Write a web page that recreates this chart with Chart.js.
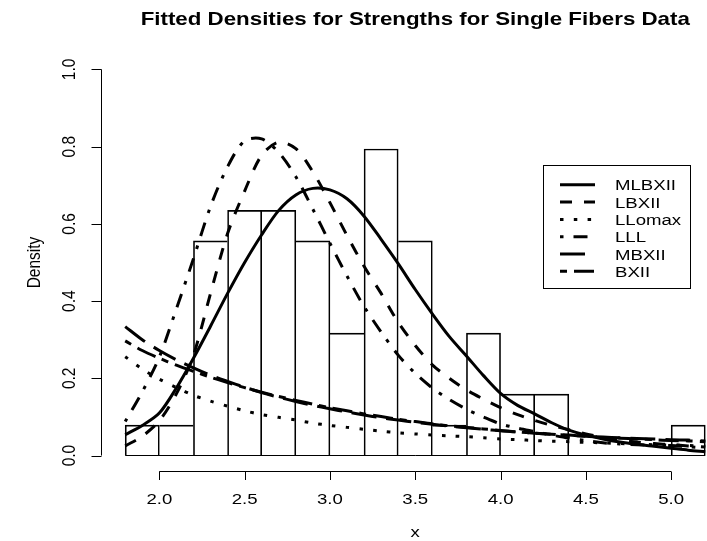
<!DOCTYPE html>
<html>
<head>
<meta charset="utf-8">
<script src="https://cdn.jsdelivr.net/npm/chart.js@4.4.1/dist/chart.umd.min.js"></script>
<style>
  html, body { margin: 0; padding: 0; background: #fff; overflow: hidden; }
</style>
</head>
<body>
<canvas id="myChart" width="707" height="541"></canvas>
<script>
// histogram of the fibre strengths
const histBreaks = [1.8, 2.0, 2.2, 2.4, 2.6, 2.8, 3.0, 3.2, 3.4, 3.6, 3.8, 4.0, 4.2, 4.4, 4.6, 4.8, 5.0, 5.2];
const histDensity = [0.079, 0.079, 0.556, 0.635, 0.635, 0.556, 0.317, 0.794, 0.556, 0.079, 0.317, 0.159, 0.159, 0, 0, 0, 0.079];

// fitted densities
const curveX = [1.8, 1.9, 2.0, 2.1, 2.2, 2.3, 2.4, 2.5, 2.6, 2.7, 2.8, 2.9, 3.0, 3.1, 3.2, 3.3, 3.4, 3.5, 3.6, 3.7, 3.8, 3.9, 4.0, 4.1, 4.2, 4.3, 4.4, 4.5, 4.6, 4.7, 4.8, 4.9, 5.0, 5.1, 5.2];
const mlbxii = [0.054, 0.078, 0.11, 0.175, 0.252, 0.335, 0.42, 0.50, 0.572, 0.635, 0.675, 0.692, 0.688, 0.665, 0.62, 0.56, 0.497, 0.43, 0.367, 0.308, 0.258, 0.207, 0.161, 0.13, 0.108, 0.085, 0.066, 0.053, 0.043, 0.035, 0.029, 0.024, 0.019, 0.014, 0.010];
const lbxii = [0.025, 0.05, 0.09, 0.16, 0.26, 0.42, 0.575, 0.685, 0.778, 0.812, 0.795, 0.735, 0.655, 0.57, 0.49, 0.42, 0.345, 0.285, 0.235, 0.20, 0.17, 0.146, 0.124, 0.106, 0.091, 0.078, 0.067, 0.056, 0.047, 0.040, 0.035, 0.031, 0.028, 0.025, 0.022];
const llomax = [0.256, 0.224, 0.198, 0.176, 0.156, 0.141, 0.128, 0.116, 0.106, 0.099, 0.092, 0.084, 0.078, 0.073, 0.068, 0.063, 0.059, 0.056, 0.053, 0.051, 0.049, 0.046, 0.043, 0.041, 0.039, 0.037, 0.036, 0.034, 0.033, 0.031, 0.030, 0.028, 0.027, 0.026, 0.025];
const lll = [0.088, 0.165, 0.255, 0.38, 0.51, 0.645, 0.748, 0.815, 0.82, 0.785, 0.722, 0.638, 0.55, 0.465, 0.386, 0.32, 0.26, 0.213, 0.175, 0.145, 0.12, 0.10, 0.082, 0.071, 0.062, 0.053, 0.045, 0.039, 0.033, 0.030, 0.028, 0.027, 0.026, 0.023, 0.02];
const mbxii = [0.334, 0.30, 0.272, 0.248, 0.227, 0.208, 0.192, 0.177, 0.163, 0.151, 0.14, 0.13, 0.121, 0.113, 0.105, 0.098, 0.092, 0.086, 0.081, 0.076, 0.072, 0.068, 0.064, 0.061, 0.058, 0.055, 0.053, 0.05, 0.048, 0.046, 0.044, 0.043, 0.041, 0.04, 0.038];
const bxii = [0.297, 0.272, 0.252, 0.234, 0.218, 0.203, 0.189, 0.176, 0.164, 0.153, 0.143, 0.133, 0.124, 0.116, 0.108, 0.101, 0.094, 0.088, 0.082, 0.077, 0.073, 0.069, 0.065, 0.061, 0.058, 0.055, 0.052, 0.050, 0.047, 0.045, 0.043, 0.041, 0.039, 0.038, 0.036];

const xTicks = [2.0, 2.5, 3.0, 3.5, 4.0, 4.5, 5.0];
const yTicks = [0.0, 0.2, 0.4, 0.6, 0.8, 1.0];

const titleText = "Fitted Densities for Strengths for Single Fibers Data";
const xTitle = "x";
const yTitle = "Density";

const FONT = '"Liberation Sans", Arial, Helvetica, sans-serif';
const STRETCH = 1.2; // the reference is wider than it is tall, text too

const curves = [
  { label: "MLBXII", data: mlbxii, dash: [] },
  { label: "LBXII", data: lbxii, dash: [12, 12] },
  { label: "LLomax", data: llomax, dash: [3.5, 10.3] },
  { label: "LLL", data: lll, dash: [3.5, 10, 14, 10] },
  { label: "MBXII", data: mbxii, dash: [25, 10] },
  { label: "BXII", data: bxii, dash: [7, 7, 20, 7] }
];

const barPoints = histDensity.map((d, i) => ({ x: (histBreaks[i] + histBreaks[i + 1]) / 2, y: d }));

// shared edges drawn once, by the taller bar
function barBorder(c) {
  const i = c.dataIndex;
  const h = histDensity;
  return {
    top: 1,
    bottom: 0,
    left: (i === 0 || h[i - 1] < h[i]) ? 1 : 0,
    right: (i === h.length - 1 || h[i + 1] <= h[i]) ? 1 : 0
  };
}

const datasets = [{
  type: "bar",
  label: "hist",
  data: barPoints,
  backgroundColor: "rgba(0,0,0,0)",
  borderColor: "#000",
  borderWidth: barBorder,
  borderSkipped: false,
  barPercentage: 1,
  categoryPercentage: 1,
  order: 10
}];

curves.forEach(function (c) {
  datasets.push({
    type: "line",
    label: c.label,
    data: c.data.map((v, i) => ({ x: curveX[i], y: v })),
    borderColor: "#000",
    borderWidth: 3,
    borderDash: c.dash,
    pointRadius: 0,
    fill: false,
    tension: 0.3,
    order: 1
  });
});

function stretchedText(ctx, text, x, y, size, bold, rotate) {
  ctx.save();
  ctx.translate(x, y);
  ctx.scale(STRETCH, 1);
  if (rotate) ctx.rotate(-Math.PI / 2);
  ctx.font = (bold ? "bold " : "") + size + "px " + FONT;
  ctx.fillStyle = "#000";
  ctx.textAlign = "center";
  ctx.textBaseline = "alphabetic";
  ctx.fillText(text, 0, 0);
  ctx.restore();
}

const rBase = {
  id: "rBase",
  beforeDatasetsDraw(chart) {
    const ctx = chart.ctx;
    const x = chart.scales.x, y = chart.scales.y;
    // histogram baseline (also the empty bins)
    ctx.save();
    ctx.strokeStyle = "#000";
    ctx.lineWidth = 1;
    const yb = Math.round(y.getPixelForValue(0)) - 0.5;
    ctx.beginPath();
    ctx.moveTo(x.getPixelForValue(histBreaks[0]), yb);
    ctx.lineTo(x.getPixelForValue(histBreaks[histBreaks.length - 1]), yb);
    ctx.stroke();
    ctx.restore();
  },
  afterDraw(chart) {
    const ctx = chart.ctx;
    const x = chart.scales.x, y = chart.scales.y;
    const area = chart.chartArea;
    const fs = 15.5;

    ctx.save();
    ctx.strokeStyle = "#000";
    ctx.lineWidth = 1;

    // x axis, R style
    const ax = Math.round(area.bottom) + 0.5;
    ctx.beginPath();
    ctx.moveTo(x.getPixelForValue(xTicks[0]), ax);
    ctx.lineTo(x.getPixelForValue(xTicks[xTicks.length - 1]), ax);
    xTicks.forEach(function (t) {
      const px = Math.round(x.getPixelForValue(t)) + 0.5;
      ctx.moveTo(px, ax);
      ctx.lineTo(px, ax + 8.5);
    });
    ctx.stroke();
    xTicks.forEach(function (t) {
      stretchedText(ctx, t.toFixed(1), x.getPixelForValue(t), 504, fs, false, false);
    });
    stretchedText(ctx, xTitle, (x.getPixelForValue(1.664) + x.getPixelForValue(5.336)) / 2, 537, fs, false, false);

    // y axis
    const ay = Math.round(area.left) - 0.5;
    ctx.beginPath();
    ctx.moveTo(ay, y.getPixelForValue(yTicks[0]));
    ctx.lineTo(ay, y.getPixelForValue(yTicks[yTicks.length - 1]));
    yTicks.forEach(function (t) {
      const py = Math.round(y.getPixelForValue(t)) + 0.5;
      ctx.moveTo(ay, py);
      ctx.lineTo(ay - 10, py);
    });
    ctx.stroke();
    yTicks.forEach(function (t) {
      stretchedText(ctx, t.toFixed(1), 75, y.getPixelForValue(t), fs, false, true);
    });
    stretchedText(ctx, yTitle, 40, (area.top + area.bottom) / 2, fs, false, true);

    // title, centred over the whole plot region (part of it is off the picture)
    stretchedText(ctx, titleText, (x.getPixelForValue(1.664) + x.getPixelForValue(5.336)) / 2, 25, 18.6, true, false);

    // legend box
    const lx = Math.round(x.getPixelForValue(4.25)) + 0.5;
    const ly = Math.round(y.getPixelForValue(0.752)) + 0.5;
    const lw = 147, lh = 123;
    ctx.fillStyle = "#fff";
    ctx.fillRect(lx, ly, lw, lh);
    ctx.strokeRect(lx, ly, lw, lh);
    chart.data.datasets.forEach(function (ds, k) {
      if (ds.type !== "line") return;
      const i = k - 1;
      const rowY = ly + 19.3 + i * 17.3;
      ctx.save();
      ctx.lineWidth = 3;
      ctx.setLineDash(ds.borderDash);
      ctx.beginPath();
      ctx.moveTo(lx + 16.5, rowY);
      ctx.lineTo(lx + 51.5, rowY);
      ctx.stroke();
      ctx.restore();
      ctx.save();
      ctx.translate(lx + 71.5, rowY + 5.5);
      ctx.scale(STRETCH, 1);
      ctx.font = fs + "px " + FONT;
      ctx.fillStyle = "#000";
      ctx.textAlign = "left";
      ctx.fillText(ds.label, 0, 0);
      ctx.restore();
    });

    ctx.restore();
  }
};

const ctx = document.getElementById("myChart");

new Chart(ctx, {
  data: { datasets: datasets },
  options: {
    responsive: false,
    animation: false,
    devicePixelRatio: 1,
    layout: { padding: { top: 54, right: 0, bottom: 0, left: 0 } },
    plugins: {
      legend: { display: false },
      tooltip: { enabled: false },
      title: { display: false }
    },
    scales: {
      x: {
        type: "linear",
        offset: false,
        min: 1.664,
        max: 5.210,
        grid: { display: false, offset: false },
        border: { display: false },
        ticks: { display: false },
        afterBuildTicks: function (s) { s.ticks = xTicks.map(v => ({ value: v })); },
        afterFit: function (s) { s.height = 70; }
      },
      y: {
        type: "linear",
        min: -0.04,
        max: 1.04,
        grid: { display: false },
        border: { display: false },
        ticks: { display: false },
        afterBuildTicks: function (s) { s.ticks = yTicks.map(v => ({ value: v })); },
        afterFit: function (s) { s.width = 102; }
      }
    }
  },
  plugins: [rBase]
});
</script>
</body>
</html>
